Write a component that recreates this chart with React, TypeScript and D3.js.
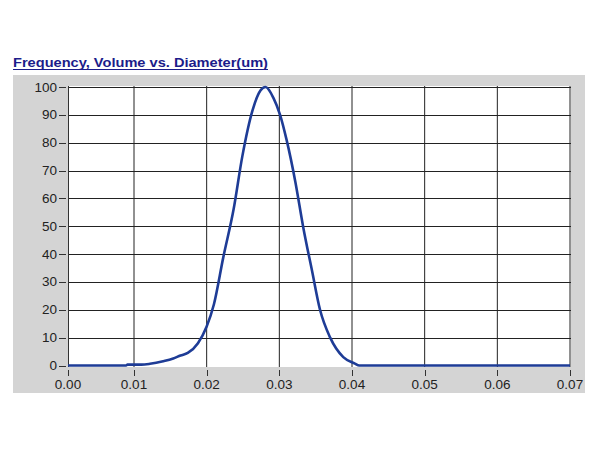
import React from "react";
import * as d3 from "d3";

const title = "Frequency, Volume vs. Diameter(um)";
const diameter = [0, 0.0088, 0.009, 0.011, 0.0122, 0.014, 0.0154, 0.0164, 0.0174, 0.0188, 0.02, 0.021, 0.0223, 0.0237, 0.0249, 0.0263, 0.0274, 0.0281, 0.0292, 0.0301, 0.031, 0.0322, 0.0333, 0.0345, 0.0356, 0.037, 0.0388, 0.0404, 0.041, 0.07];
const volume = [0, 0, 0.3, 0.3, 0.6, 1.5, 2.5, 3.6, 4.5, 8, 14, 22, 39, 56, 75, 91.5, 98.7, 100, 96, 90, 81, 66, 49.5, 34, 20, 10, 3, 0.7, 0, 0];
const xTicks = [0, 0.01, 0.02, 0.03, 0.04, 0.05, 0.06, 0.07];
const yTicks = [0, 10, 20, 30, 40, 50, 60, 70, 80, 90, 100];

export default function App() {
  const left = 68, right = 571, top = 86, bottom = 367;
  const x = d3.scaleLinear().domain([0, 0.01, 0.07]).range([68, 134, 570]);
  const y = d3.scaleLinear().domain([0, 100]).range([365.5, 87]);
  const pts = diameter.map((d, i) => [d, volume[i]] as [number, number]);
  const line = d3.line<[number, number]>().x(d => x(d[0])).y(d => y(d[1])).curve(d3.curveMonotoneX);
  const font = "'Liberation Sans', Arial, sans-serif";
  return (
    <svg width={600} height={450} style={{ position: "absolute", left: 0, top: 0 }} fontFamily={font}>
      <rect x={0} y={0} width={600} height={450} fill="#fff" />
      <text x={13} y={67} fontSize={12.5} fontWeight="bold" fill="#1c1c8a" textLength={255} lengthAdjust="spacingAndGlyphs">{title}</text>
      <line x1={13} x2={268} y1={69.5} y2={69.5} stroke="#1c1c8a" strokeWidth={1.2} />
      <rect x={13} y={75} width={572} height={318} fill="#d4d4d4" />
      <rect x={left} y={top} width={right - left} height={bottom - top} fill="#fff" />
      {xTicks.slice(1).map(t => (
        <line key={"gx" + t} x1={x(t)} x2={x(t)} y1={top} y2={bottom} stroke="#222" strokeWidth={1} />
      ))}
      {yTicks.slice(1).map(t => (
        <line key={"gy" + t} x1={left} x2={right} y1={Math.round(y(t)) + 0.5} y2={Math.round(y(t)) + 0.5} stroke="#222" strokeWidth={1} />
      ))}
      <line x1={left + 0.5} x2={left + 0.5} y1={top} y2={bottom} stroke="#333" strokeWidth={1} />
      {yTicks.map(t => (
        <g key={"ty" + t}>
          <line x1={59} x2={66} y1={Math.round(y(t)) + 0.5} y2={Math.round(y(t)) + 0.5} stroke="#333" strokeWidth={1} />
          <text x={57} y={y(t) + 4.5} fontSize={13.5} textAnchor="end" fill="#222">{t}</text>
        </g>
      ))}
      {xTicks.map(t => (
        <g key={"tx" + t}>
          <line x1={Math.round(x(t)) + 0.5} x2={Math.round(x(t)) + 0.5} y1={370} y2={376} stroke="#333" strokeWidth={1} />
          <text x={x(t)} y={389} fontSize={13.5} textAnchor="middle" fill="#222">{t.toFixed(2)}</text>
        </g>
      ))}
      <path d={line(pts) || ""} fill="none" stroke="#1e3c96" strokeWidth={2.6} strokeLinejoin="round" />
    </svg>
  );
}
